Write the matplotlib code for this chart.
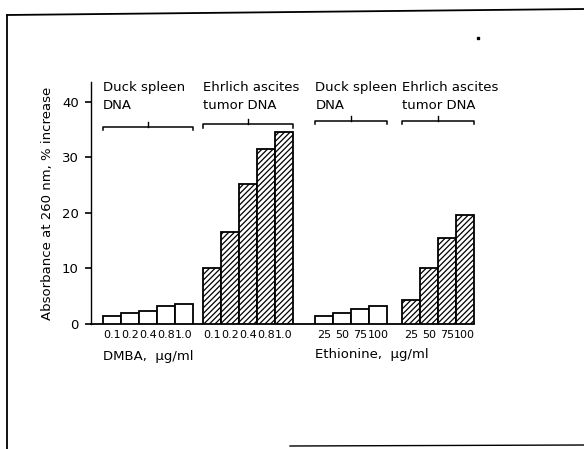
import numpy as np
import matplotlib
matplotlib.use('Agg')
from matplotlib import pyplot as plt
from matplotlib.lines import Line2D

plt.rcParams['font.family'] = ['DejaVu Sans']
plt.rcParams['hatch.linewidth'] = 0.9

# data (% increase of absorbance at 260 nm)
dmba_doses = ['0.1', '0.2', '0.4', '0.8', '1.0']
eth_doses = ['25', '50', '75', '100']
dmba_spleen = [1.5, 1.9, 2.4, 3.2, 3.5]
dmba_tumor = [10.0, 16.5, 25.1, 31.4, 34.5]
eth_spleen = [1.5, 2.0, 2.7, 3.2]
eth_tumor = [4.3, 10.0, 15.4, 19.6]

group_titles = ['Duck spleen\nDNA', 'Ehrlich ascites\ntumor DNA',
                'Duck spleen\nDNA', 'Ehrlich ascites\ntumor DNA']
bracket_y = [35.5, 35.9, 36.5, 36.6]


def main():
	fig = plt.figure(figsize=(5.84, 4.49), dpi=100)
	ax = fig.add_axes([0.1553, 0.2785, 0.6743, 0.5385])

	groups = [(dmba_spleen, dmba_doses, False), (dmba_tumor, dmba_doses, True),
	          (eth_spleen, eth_doses, False), (eth_tumor, eth_doses, True)]
	gaps = [0.7, 0.6, 1.25, 0.85]

	start = 0.0
	ticks, ticklabels = [], []
	for i, (vals, labs, hatched) in enumerate(groups):
		start += gaps[i]
		x = start + np.arange(len(vals)) + 0.5
		ax.bar(x, vals, width=1.0, color='white', edgecolor='black', linewidth=1.3,
		       hatch='//////' if hatched else None)
		ticks += list(x)
		ticklabels += labs
		x0, x1 = start, start + len(vals)
		yb = bracket_y[i]
		ax.plot([x0, x0, x1, x1], [yb - 0.6, yb, yb, yb - 0.6], color='black', lw=1.1,
		        clip_on=False)
		xm = (x0 + x1) / 2
		ax.plot([xm, xm], [yb, yb + 0.9], color='black', lw=1.0, clip_on=False)
		ax.text(x0, 43.7, group_titles[i], ha='left', va='top', fontsize=9.5,
		        linespacing=1.45)
		start = x1
	end = start

	# baseline
	ax.plot([0, end], [0, 0], color='black', lw=1.3, clip_on=False, zorder=0)

	ax.set_xlim(0, 22)
	ax.set_ylim(0, 43.5)
	ax.set_xticks(ticks)
	ax.set_xticklabels(ticklabels, fontsize=8)
	ax.tick_params(axis='x', length=0, pad=4)
	ax.set_yticks([0, 10, 20, 30, 40])
	ax.tick_params(axis='y', length=4.5, width=1.2, pad=4, labelsize=9.5)
	for s in ['top', 'right', 'bottom']:
		ax.spines[s].set_visible(False)
	ax.spines['left'].set_linewidth(1.0)

	ax.set_ylabel('Absorbance at 260 nm, % increase', fontsize=9.5, labelpad=6)

	ax.text(0.7, -5.9, 'DMBA,  \u00b5g/ml', ha='left', va='center', fontsize=9.5)
	ax.text(12.55, -5.5, 'Ethionine,  \u00b5g/ml', ha='left', va='center', fontsize=9.5)

	# scanned page frame
	W, H = 584.0, 449.0
	fig.add_artist(Line2D([7 / W, 1], [1 - 15 / H, 1 - 9 / H], color='black', lw=1.3))
	fig.add_artist(Line2D([7 / W, 7 / W], [1 - 15 / H, 0], color='black', lw=1.3))
	fig.add_artist(Line2D([290 / W, 1], [1 - 446 / H, 1 - 445 / H], color='black', lw=1.0))
	fig.add_artist(Line2D([478 / W], [1 - 38 / H], marker='s', ms=2, color='black', lw=0))

	plt.savefig('out.png', dpi=100)
	plt.close(fig)


if __name__ == '__main__':
	main()
